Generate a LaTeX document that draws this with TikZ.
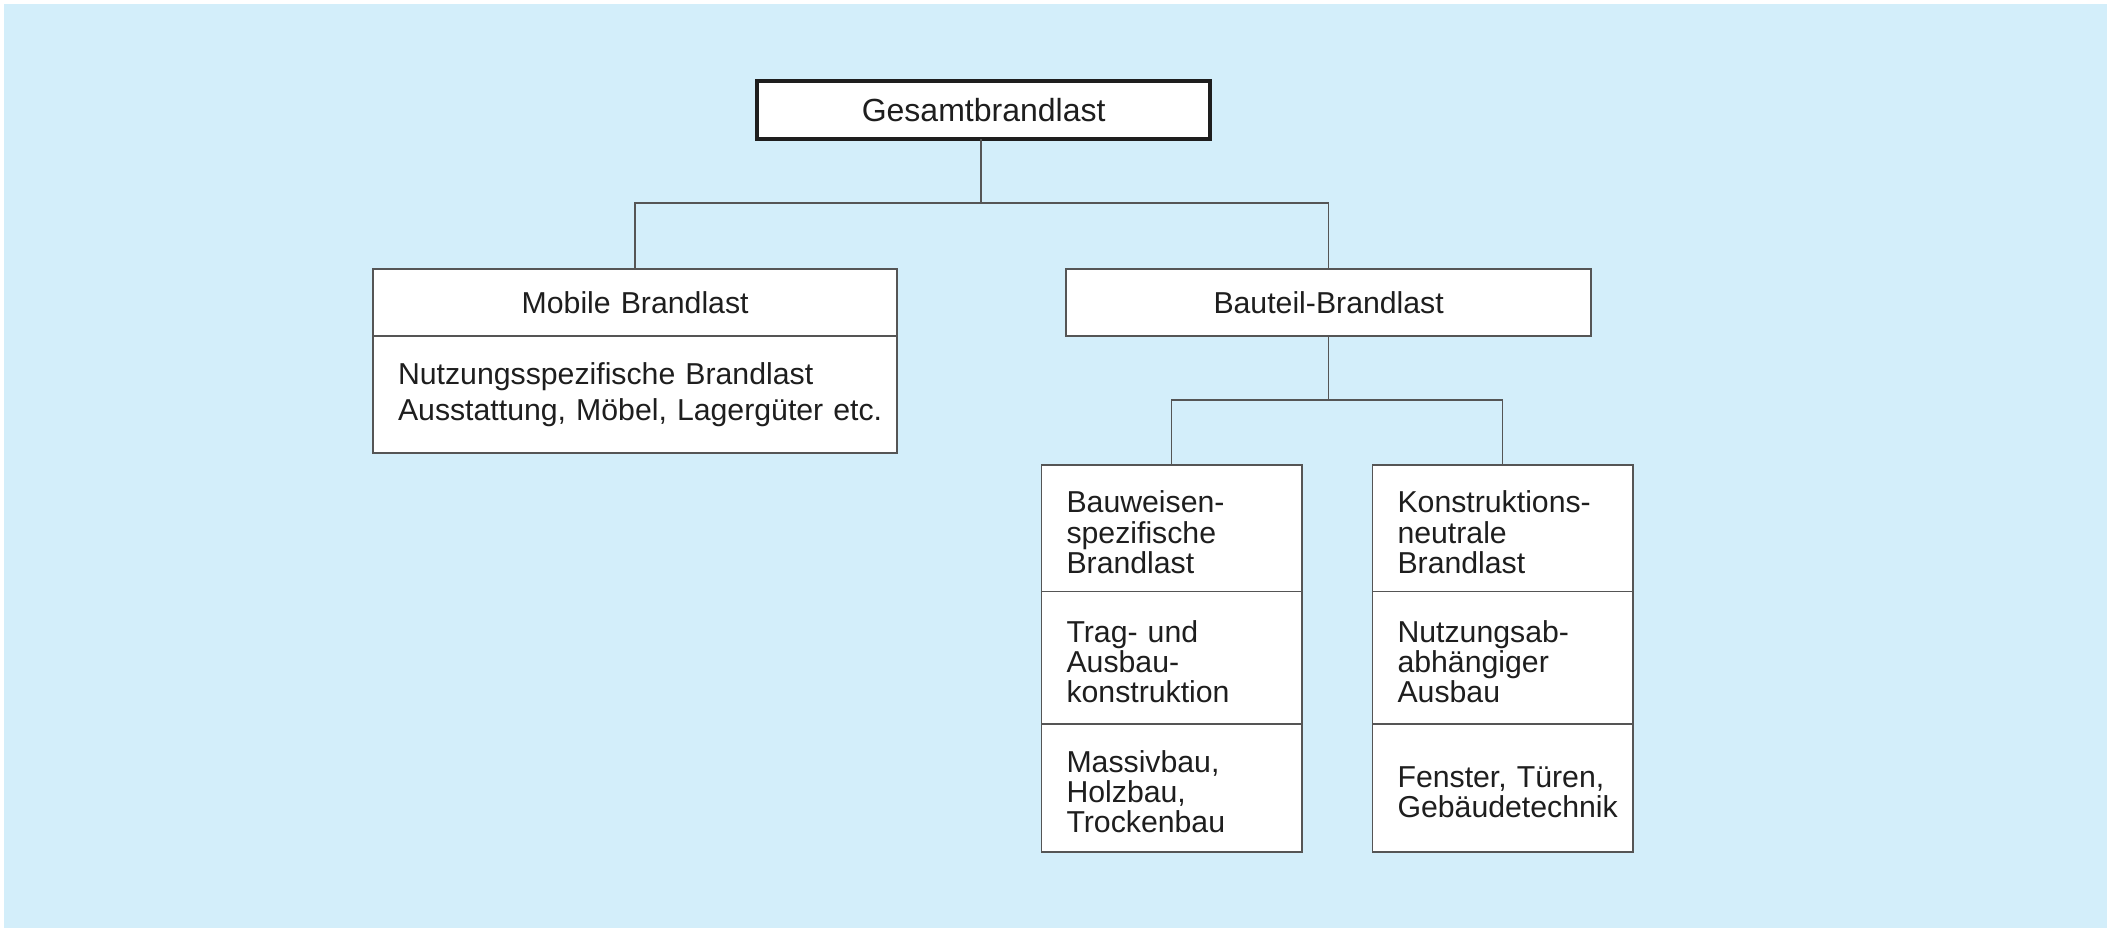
\documentclass[tikz,border=0pt]{standalone}
\usepackage{fontspec}
\setmainfont{Liberation Sans}
\definecolor{bg}{HTML}{D3EEFA}
\definecolor{ln}{HTML}{555555}
\definecolor{tx}{HTML}{1E1E1E}
\begin{document}
\begin{tikzpicture}[x=0.01cm,y=-0.01cm,
  cell/.style={draw=ln, line width=0.5pt, fill=white, anchor=north west,
    inner xsep=0.25cm, inner ysep=0pt, outer sep=0pt, text=tx,
    font=\fontsize{8.6}{8.6}\selectfont, align=left},
  head/.style={cell, align=center},
  col/.style={cell, text width=2.10cm, minimum width=2.60cm,
    execute at begin node={\rule{0pt}{0.30cm}}},
  conn/.style={draw=ln, line width=0.38pt}]
\useasboundingbox (0,0) rectangle (2111,933);
\fill[bg] (4,4) rectangle (2107,928);

\node[cell, draw=tx, line width=1.15pt, align=center, text width=4.03cm,
      minimum height=0.58cm, font=\fontsize{9.1}{11}\selectfont] (G) at (757,81) {Gesamtbrandlast};

\node[head, text width=4.74cm, minimum height=0.67cm] (M1) at (373,269) {Mobile Brandlast};
\node[cell, text width=4.74cm, minimum height=1.17cm,
      font=\fontsize{8.6}{10.25}\selectfont] (M2) at (M1.south west)
      {\mbox{Nutzungsspezifische Brandlast}\\\mbox{Ausstattung, Möbel, Lagergüter etc.}};

\node[head, text width=4.75cm, minimum height=0.67cm] (B) at (1066,269) {Bauteil-Brandlast};

\node[col, minimum height=1.265cm] (L1) at (1041.5,465) {Bauweisen-\\spezifische\\Brandlast};
\node[col, minimum height=1.32cm] (L2) at (L1.south west) {Trag- und\\Ausbau-\\konstruktion};
\node[col, minimum height=1.28cm] (L3) at (L2.south west) {Massivbau,\\Holzbau,\\Trockenbau};

\node[col, minimum height=1.265cm] (R1) at (1372.5,465) {Konstruktions-\\neutrale\\Brandlast};
\node[col, minimum height=1.32cm] (R2) at (R1.south west) {Nutzungsab-\\abhängiger\\Ausbau};
\node[col, minimum height=1.28cm] (R3) at (R2.south west) {\mbox{Fenster, Türen,}\\\mbox{Gebäudetechnik}};

\path (0,203) coordinate (h1) (0,400) coordinate (h2);
\draw[conn] ([xshift=-0.025cm]G.south) -- ([xshift=-0.025cm]G.south |- h1);
\draw[conn] (M1.north) |- (B.north |- h1) -- (B.north);
\draw[conn] (B.south) -- (B.south |- h2);
\draw[conn] (L1.north) |- (R1.north |- h2) -- (R1.north);
\end{tikzpicture}
\end{document}
